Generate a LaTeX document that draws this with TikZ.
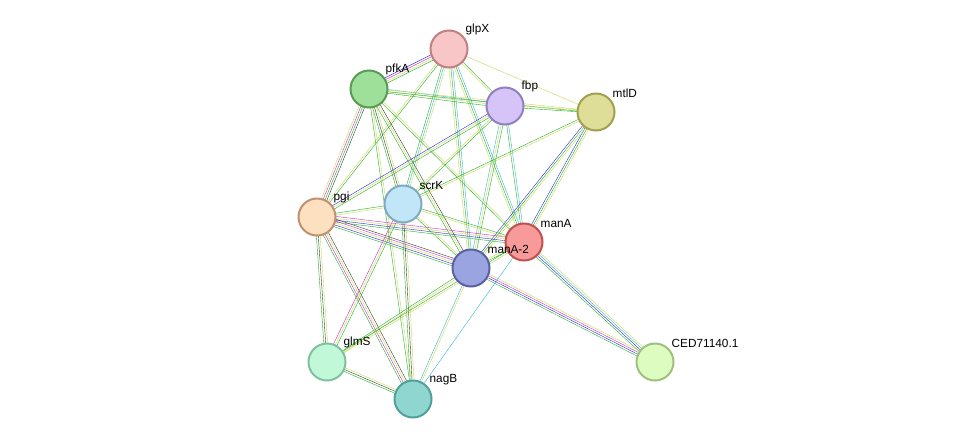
\documentclass[tikz,border=0pt]{standalone}
\usepackage{fontspec}
\setmainfont{Liberation Sans}
\usetikzlibrary{calc,backgrounds}
\definecolor{ey}{HTML}{C8D850}
\definecolor{eg}{HTML}{22B022}
\definecolor{ec}{HTML}{33B4D8}
\definecolor{eb}{HTML}{2828E0}
\definecolor{em}{HTML}{D028D0}
\definecolor{ek}{HTML}{304030}
\tikzset{>=latex}
\begin{document}
\begin{tikzpicture}[x=1pt,y=-1pt]
  % prot = protein node, plab = its name
  \tikzset{prot/.style={circle, minimum size=37pt, inner sep=0pt, line width=2pt},
           plab/.style={label={[font=\fontsize{11.8}{13}\selectfont, inner sep=0pt, label distance=2pt]40:#1}}}
  \useasboundingbox (0,0) rectangle (976,445);
  \node[prot, plab=glpX, fill={rgb,255:red,248;green,198;blue,198}, draw={rgb,255:red,192;green,128;blue,128}] (glpX) at (449,49) {};
  \node[prot, plab=pfkA, fill={rgb,255:red,158;green,224;blue,154}, draw={rgb,255:red,90;green,154;blue,85}] (pfkA) at (369,89) {};
  \node[prot, plab=fbp, fill={rgb,255:red,214;green,195;blue,248}, draw={rgb,255:red,144;green,128;blue,192}] (fbp) at (505,106) {};
  \node[prot, plab=mtlD, fill={rgb,255:red,222;green,222;blue,152}, draw={rgb,255:red,160;green,160;blue,80}] (mtlD) at (596,112) {};
  \node[prot, plab=pgi, fill={rgb,255:red,253;green,224;blue,192}, draw={rgb,255:red,192;green,144;blue,112}] (pgi) at (317,217) {};
  \node[prot, plab=scrK, fill={rgb,255:red,192;green,230;blue,248}, draw={rgb,255:red,128;green,170;blue,192}] (scrK) at (403,204) {};
  \node[prot, plab=manA, fill={rgb,255:red,248;green,154;blue,154}, draw={rgb,255:red,192;green,80;blue,80}] (manA) at (524,242) {};
  \node[prot, plab=manA-2, fill={rgb,255:red,154;green,164;blue,224}, draw={rgb,255:red,90;green,96;blue,160}] (mantwo) at (471,268) {};
  \node[prot, plab=glmS, fill={rgb,255:red,192;green,248;blue,216}, draw={rgb,255:red,128;green,192;blue,160}] (glmS) at (327,362) {};
  \node[prot, plab=nagB, fill={rgb,255:red,144;green,214;blue,208}, draw={rgb,255:red,80;green,160;blue,154}] (nagB) at (413,399) {};
  \node[prot, plab=CED71140.1, fill={rgb,255:red,220;green,252;blue,192}, draw={rgb,255:red,160;green,192;blue,128}] (ced) at (655,362) {};
  \begin{scope}[on background layer, line width=1.4pt]
    \foreach \a/\b/\n/\cols in {glpX/pfkA/4/{eb,em,ey,eg}, glpX/fbp/2/{ey,eg}, glpX/mtlD/1/{ey},
        glpX/pgi/2/{ey,eg}, glpX/scrK/3/{eg,ec,ey}, glpX/manA/3/{ey,eg,ec}, glpX/mantwo/3/{ey,eg,ec},
        pfkA/fbp/3/{eg,ey,ec}, pfkA/mtlD/2/{eg,ey}, pfkA/pgi/4/{ey,em,eg,ek}, pfkA/scrK/3/{eg,ek,ey},
        pfkA/manA/2/{eg,ey}, pfkA/mantwo/3/{eg,ey,ek}, pfkA/nagB/2/{eg,ey},
        fbp/mtlD/2/{eg,ey}, fbp/pgi/3/{eb,ey,eg}, fbp/scrK/2/{ey,eg}, fbp/manA/2/{eg,ec},
        fbp/mantwo/3/{ec,ey,eg}, mtlD/scrK/2/{eg,ey}, mtlD/manA/3/{eb,eg,ey}, mtlD/mantwo/3/{eb,eg,ey},
        pgi/scrK/2/{ey,eg}, pgi/manA/4/{eg,eb,ey,em}, pgi/mantwo/5/{eg,eb,ey,em,ek},
        pgi/glmS/3/{eg,ek,ey}, pgi/nagB/4/{eg,em,ey,ek}, scrK/manA/2/{ey,eg}, scrK/mantwo/2/{eg,ey},
        scrK/glmS/3/{em,ey,eg}, scrK/nagB/3/{eg,ek,ey}, manA/mantwo/2/{ey,eg},
        manA/ced/4/{eg,eb,ec,ey}, mantwo/ced/4/{eg,eb,em,ey}, mantwo/glmS/2/{eg,ey},
        mantwo/nagB/2/{ec,ey}, manA/glmS/2/{eg,ey}, manA/nagB/1/{ec}, glmS/nagB/3/{eg,ek,ey}}
      \foreach \c [count=\i] in \cols {
        \pgfmathsetmacro\off{(\i-(\n+1)/2)*1.9}
        \draw[\c] ($(\a.center)!\off pt!90:(\b.center)$) -- ($(\b.center)!\off pt!-90:(\a.center)$);
      }
  \end{scope}
\end{tikzpicture}
\end{document}
